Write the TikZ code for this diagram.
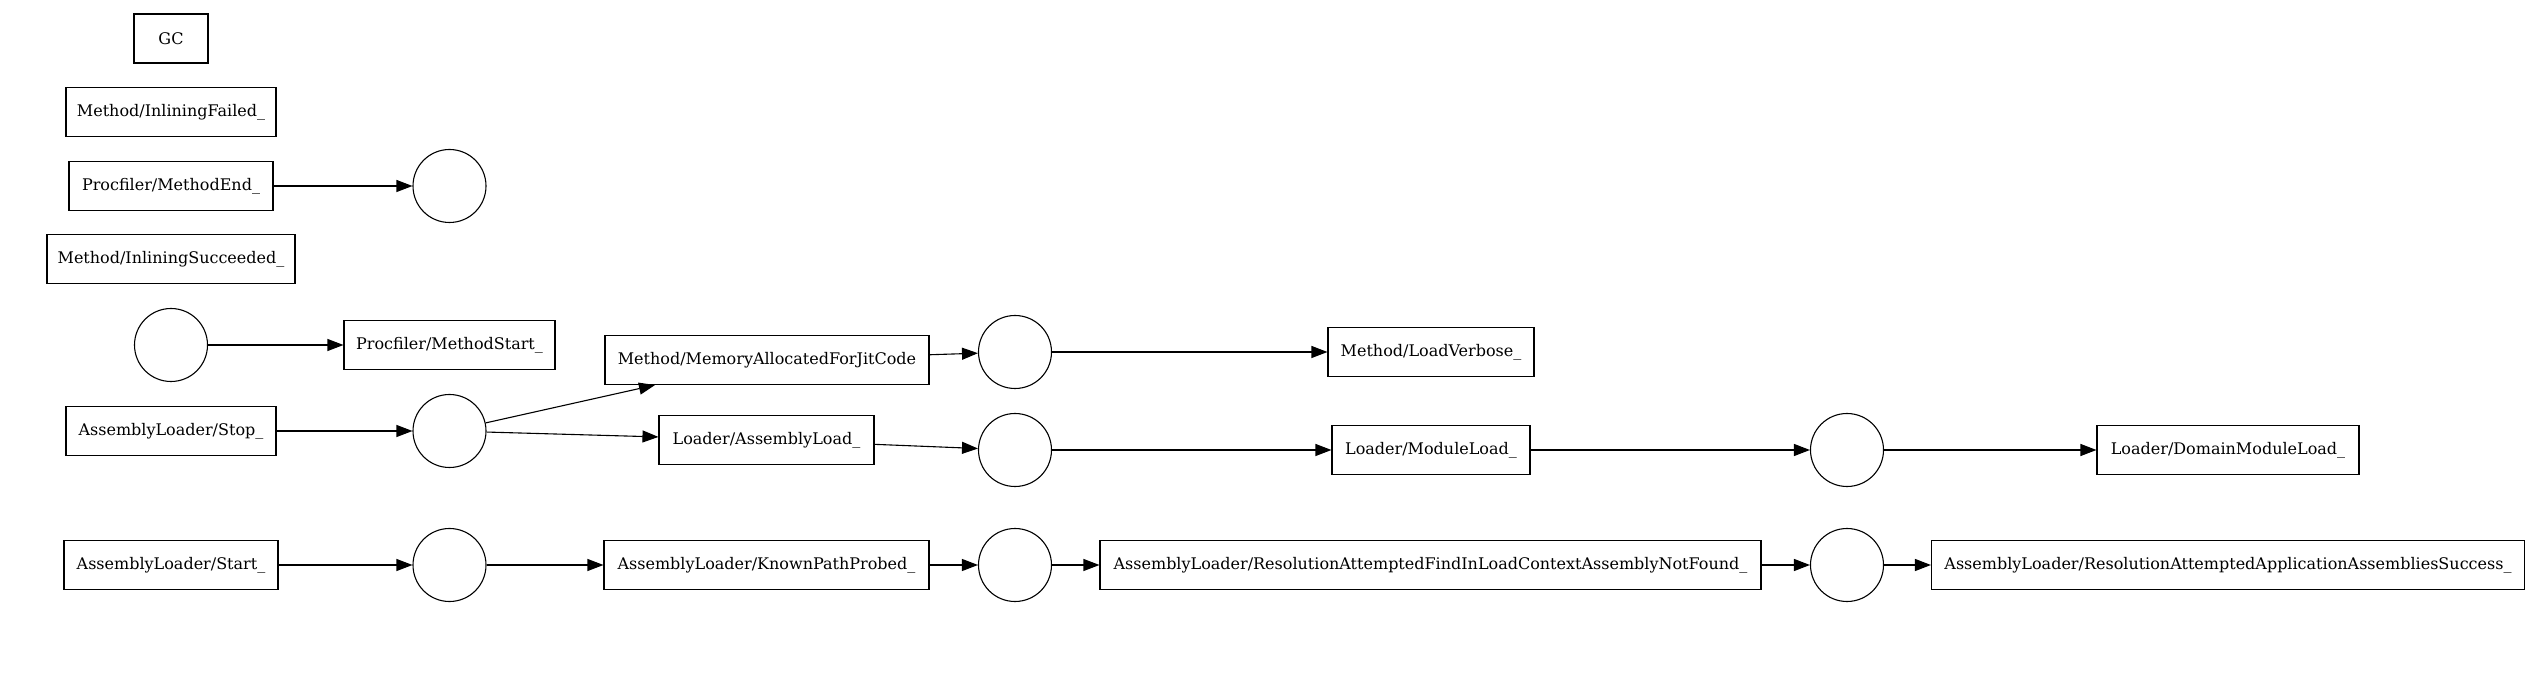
\documentclass[tikz,border=0pt]{standalone}
\usepackage{fontspec}
\setmainfont{DejaVu Serif}
\usetikzlibrary{arrows.meta}
\begin{document}
\begin{tikzpicture}[x=0.5pt,y=-0.5pt,
  box/.style={draw,line width=0.55pt,rectangle,minimum height=24.5pt,inner xsep=0pt,inner ysep=0pt,font=\fontsize{8pt}{10pt}\selectfont},
  ev/.style={draw,line width=0.55pt,circle,minimum size=36.5pt,inner sep=0pt},
  link/.style={line width=0.55pt,-{Triangle[length=8pt,width=6pt]}}]
\useasboundingbox (0,0) rectangle (2544,678);
\node[box,minimum width=37pt] (gc) at (171,38.5) {GC};
\node[box,minimum width=105pt] (inf) at (171,112) {Method/InliningFailed\_};
\node[box,minimum width=102pt] (mend) at (171,186) {Procfiler/MethodEnd\_};
\node[box,minimum width=124pt] (ins) at (171,259) {Method/InliningSucceeded\_};
\node[box,minimum width=105pt] (stop) at (171,431) {AssemblyLoader/Stop\_};
\node[box,minimum width=107pt] (start) at (171,565) {AssemblyLoader/Start\_};
\node[ev] (c0) at (171,345) {};
\node[ev] (c1) at (449.5,186) {};
\node[ev] (c2) at (449.5,431) {};
\node[ev] (c6) at (449.5,565) {};
\node[box,minimum width=105.5pt] (mstart) at (449.5,345) {Procfiler/MethodStart\_};
\node[box,minimum width=162pt] (mem) at (767,360) {Method/MemoryAllocatedForJitCode};
\node[box,minimum width=107.5pt] (aload) at (766.5,440) {Loader/AssemblyLoad\_};
\node[box,minimum width=162.5pt] (kpp) at (766.5,565) {AssemblyLoader/KnownPathProbed\_};
\node[ev] (c3) at (1015,352) {};
\node[ev] (c4) at (1015,450) {};
\node[ev] (c7) at (1015,565) {};
\node[box,minimum width=103pt] (lverb) at (1431,352) {Method/LoadVerbose\_};
\node[box,minimum width=99pt] (mload) at (1431,450) {Loader/ModuleLoad\_};
\node[box,minimum width=330.5pt] (rfind) at (1430.5,565) {AssemblyLoader/ResolutionAttemptedFindInLoadContextAssemblyNotFound\_};
\node[ev] (c5) at (1847,450) {};
\node[ev] (c8) at (1847,565) {};
\node[box,minimum width=131pt] (dml) at (2228,450) {Loader/DomainModuleLoad\_};
\node[box,minimum width=296.5pt] (rapp) at (2228,565) {AssemblyLoader/ResolutionAttemptedApplicationAssembliesSuccess\_};
\draw[link] (mend) -- (c1);
\draw[link] (c0) -- (mstart);
\draw[link] (stop) -- (c2);
\draw[link] (c2) -- (mem);
\draw[link] (c2) -- (aload);
\draw[link] (mem) -- (c3);
\draw[link] (aload) -- (c4);
\draw[link] (c3) -- (lverb);
\draw[link] (c4) -- (mload);
\draw[link] (mload) -- (c5);
\draw[link] (c5) -- (dml);
\draw[link] (start) -- (c6);
\draw[link] (c6) -- (kpp);
\draw[link] (kpp) -- (c7);
\draw[link] (c7) -- (rfind);
\draw[link] (rfind) -- (c8);
\draw[link] (c8) -- (rapp);
\end{tikzpicture}
\end{document}
